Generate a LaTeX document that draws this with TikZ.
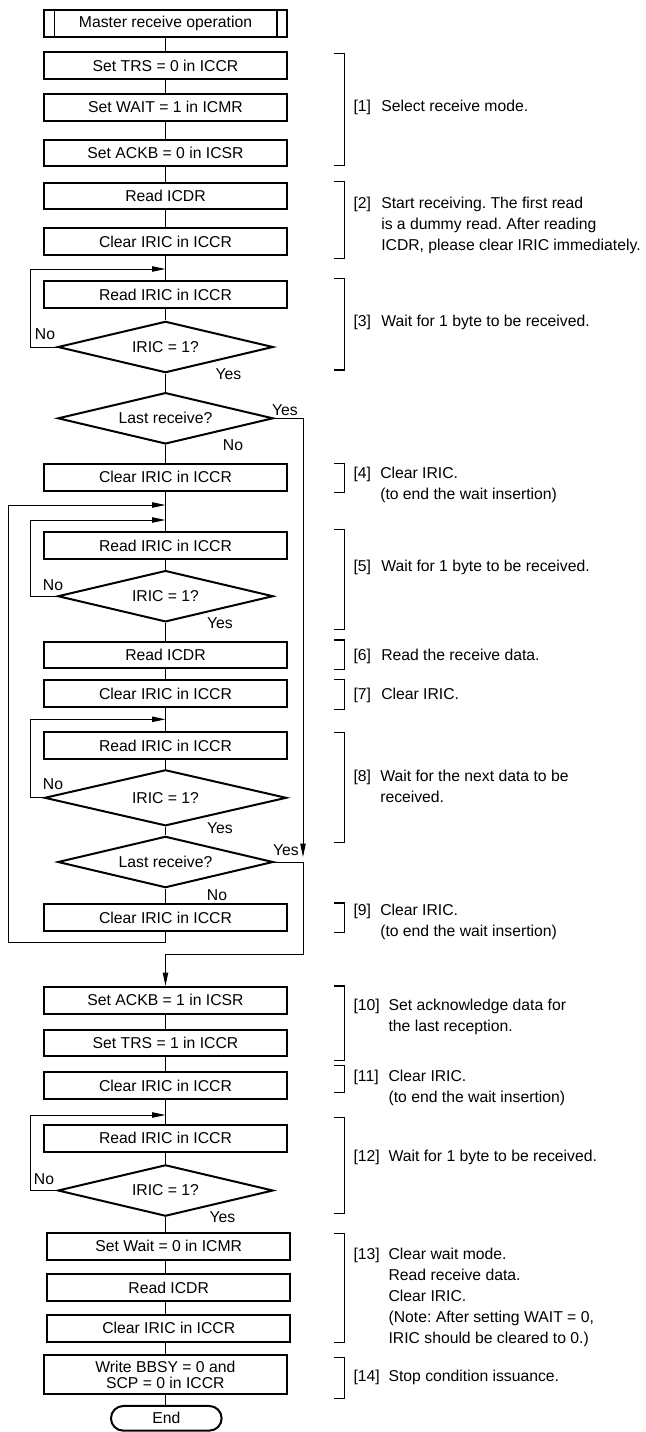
\documentclass[tikz,border=0pt]{standalone}
\usepackage{fontspec}
\setmainfont{Liberation Sans}
\frenchspacing
\usetikzlibrary{shapes.geometric,shapes.misc,arrows.meta}
\begin{document}
\begin{tikzpicture}[x=0.75pt,y=-0.75pt,
  every node/.style={font=\fontsize{11.8}{15.75}\selectfont},
  box/.style={draw, line width=1.5pt, minimum width=182.5pt, minimum height=20pt, inner sep=0pt},
  dec/.style={draw, diamond, shape aspect=4.17, line width=1.5pt, minimum width=161.5pt, minimum height=38.5pt, inner sep=0pt},
  conn/.style={line width=0.75pt},
  arr/.style={conn, -{Triangle[length=10pt,width=4pt]}},
  brk/.style={line width=1pt},
  lbl/.style={inner sep=0pt},
  note/.style={anchor=base west, inner sep=0pt}
]
\useasboundingbox (0,0) rectangle (646,1432);

% ---- flow nodes
\node[box] (start) at (165.5,23.2) {Master receive operation};
\draw[line width=1pt] ([xshift=8.5pt]start.north west) -- ([xshift=8.5pt]start.south west);
\draw[line width=1pt] ([xshift=-8.5pt]start.north east) -- ([xshift=-8.5pt]start.south east);
\node[box] (trs0) at (165.5,65.8) {Set TRS = 0 in ICCR};
\node[box] (wait1) at (165.5,107.2) {Set WAIT = 1 in ICMR};
\node[box] (ackb0) at (165.5,153) {Set ACKB = 0 in ICSR};
\node[box] (rd1) at (165.5,196) {Read ICDR};
\node[box] (clr1) at (165.5,241.8) {Clear IRIC in ICCR};
\node[box] (ri1) at (165.5,294.7) {Read IRIC in ICCR};
\node[dec] (dia1) at (165.5,347) {IRIC = 1?};
\node[dec] (last1) at (165.5,418.3) {Last receive?};
\node[box] (clr4) at (165.5,477.2) {Clear IRIC in ICCR};
\node[box] (ri5) at (165.5,545.8) {Read IRIC in ICCR};
\node[dec] (dia5) at (165.5,596.2) {IRIC = 1?};
\node[box] (rd6) at (165.5,655) {Read ICDR};
\node[box] (clr7) at (165.5,693.7) {Clear IRIC in ICCR};
\node[box] (ri8) at (165.5,745.8) {Read IRIC in ICCR};
\node[dec, shape aspect=4.32, minimum width=181.5pt, minimum height=42pt] (dia8) at (165.5,797.8) {IRIC = 1?};
\node[dec] (last8) at (165.5,862) {Last receive?};
\node[box] (clr9) at (165.5,917.5) {Clear IRIC in ICCR};
\node[box] (ackb1) at (165.5,1000.2) {Set ACKB = 1 in ICSR};
\node[box] (trs1) at (165.5,1043) {Set TRS = 1 in ICCR};
\node[box] (clr11) at (165.5,1085.8) {Clear IRIC in ICCR};
\node[box] (ri12) at (165.5,1138.3) {Read IRIC in ICCR};
\node[dec] (dia12) at (165.5,1190.5) {IRIC = 1?};
\node[box] (sw0) at (168.7,1246.2) {Set Wait = 0 in ICMR};
\node[box] (rd13) at (168.7,1287.8) {Read ICDR};
\node[box] (clr13) at (168.7,1328.2) {Clear IRIC in ICCR};
\node[box, minimum height=29.5pt, align=center, font=\fontsize{11.8}{12}\selectfont] (bbsy) at (165.3,1374.8) {Write BBSY = 0 and\\SCP = 0 in ICCR};
\node[draw, rounded rectangle, line width=1.5pt, minimum width=83pt, minimum height=18.5pt, inner sep=0pt] (fin) at (166.3,1418.3) {End};

% ---- helper coordinates
\coordinate (axis) at (165.5,0);
\coordinate (c1) at (30,0);
\coordinate (j1) at (165.5,269);
\coordinate (j4) at (165.5,505);
\coordinate (j5) at (165.5,520);
\coordinate (j8) at (165.5,719.3);
\coordinate (j12) at (165.5,1115);
\coordinate (o1) at (8.3,942.3);
\coordinate (r1) at (303,857);
\coordinate (b1) at (303,954.3);

% ---- straight connectors
\draw[conn] (start) -- (trs0);
\draw[conn] (trs0) -- (wait1);
\draw[conn] (wait1) -- (ackb0);
\draw[conn] (ackb0) -- (rd1);
\draw[conn] (rd1) -- (clr1);
\draw[conn] (clr1) -- (ri1);
\draw[conn] (ri1) -- (dia1);
\draw[conn] (dia1) -- (last1);
\draw[conn] (last1) -- (clr4);
\draw[conn] (clr4) -- (ri5);
\draw[conn] (ri5) -- (dia5);
\draw[conn] (dia5) -- (rd6);
\draw[conn] (rd6) -- (clr7);
\draw[conn] (clr7) -- (ri8);
\draw[conn] (ri8) -- (dia8);
\draw[conn] (dia8) -- (last8);
\draw[conn] (last8) -- (clr9);
\draw[conn] (ackb1) -- (trs1);
\draw[conn] (trs1) -- (clr11);
\draw[conn] (clr11) -- (ri12);
\draw[conn] (ri12) -- (dia12);
\draw[conn] (dia12.south) -- (axis |- sw0.north);
\draw[conn] (axis |- sw0.south) -- (axis |- rd13.north);
\draw[conn] (axis |- rd13.south) -- (axis |- clr13.north);
\draw[conn] (axis |- clr13.south) -- (axis |- bbsy.north);
\draw[conn] (axis |- bbsy.south) -- (axis |- fin.north);

% ---- loops
\draw[arr] (dia1.west) -- (dia1.west -| c1) |- (j1);
\draw[arr] (dia5.west) -- (dia5.west -| c1) |- (j5);
\draw[arr] (dia8.west) -- (dia8.west -| c1) |- (j8);
\draw[arr] (dia12.west) -- (dia12.west -| c1) |- (j12);
\draw[arr] (clr9.south) |- (o1) |- (j4);
\draw[arr] (last1.east) -| (r1);
\draw[arr] (last8.east) -| (b1) -| (ackb1.north);

% ---- Yes / No labels
\node[lbl] (no1) at (45,334) {No};
\node[lbl] (yes1) at (228.5,374) {Yes};
\node[lbl] (yesl1) at (285,410) {Yes};
\node[lbl] (nol1) at (233,445) {No};
\node[lbl] (no5) at (53,585) {No};
\node[lbl] (yes5) at (220,623) {Yes};
\node[lbl] (no8) at (53,784) {No};
\node[lbl] (yes8) at (220,828) {Yes};
\node[lbl] (yesl8) at (286,850) {Yes};
\node[lbl] (nol8) at (217,895) {No};
\node[lbl] (no12) at (44,1179) {No};
\node[lbl] (yes12) at (222.5,1217) {Yes};

% ---- brackets
\foreach \t/\b in {53.3/165.7, 181.7/258.3, 278.3/370, 463.3/492.7, 529.3/629.3,
  640/669.3, 679.3/709.3, 732.7/842.3, 903/932.3, 986/1060.7, 1065.7/1092.7,
  1117.3/1213.3, 1233.3/1342.3, 1357.7/1398.3}
  \draw[brk] (334.3,\t) -- (344.3,\t) -- (344.3,\b) -- (334.3,\b);

% ---- notes
\node[note] (k1) at (353.3,111.7) {[1]};
\node[note] (t1) at (381,111.7) {Select receive mode.};
\node[note] (k2) at (353.3,208.3) {[2]};
\node[note] (t2) at (381,208.3) {\begin{tabular}[t]{@{}l@{}}Start receiving. The first read\\is a dummy read. After reading\\ICDR, please clear IRIC immediately.\end{tabular}};
\node[note] (k3) at (353.3,326.7) {[3]};
\node[note] (t3) at (381,326.7) {Wait for 1 byte to be received.};
\node[note] (k4) at (353.3,478.3) {[4]};
\node[note] (t4) at (380,478.3) {\begin{tabular}[t]{@{}l@{}}Clear IRIC.\\(to end the wait insertion)\end{tabular}};
\node[note] (k5) at (353.3,571.7) {[5]};
\node[note] (t5) at (381,571.7) {Wait for 1 byte to be received.};
\node[note] (k6) at (353.3,660) {[6]};
\node[note] (t6) at (381,660) {Read the receive data.};
\node[note] (k7) at (353.3,699) {[7]};
\node[note] (t7) at (381,699) {Clear IRIC.};
\node[note] (k8) at (353.3,781.7) {[8]};
\node[note] (t8) at (380,781.7) {\begin{tabular}[t]{@{}l@{}}Wait for the next data to be\\received.\end{tabular}};
\node[note] (k9) at (353.3,915) {[9]};
\node[note] (t9) at (380,915) {\begin{tabular}[t]{@{}l@{}}Clear IRIC.\\(to end the wait insertion)\end{tabular}};
\node[note] (k10) at (353.3,1010) {[10]};
\node[note] (t10) at (388.3,1010) {\begin{tabular}[t]{@{}l@{}}Set acknowledge data for\\the last reception.\end{tabular}};
\node[note] (k11) at (353.3,1081.7) {[11]};
\node[note] (t11) at (388.3,1081.7) {\begin{tabular}[t]{@{}l@{}}Clear IRIC.\\(to end the wait insertion)\end{tabular}};
\node[note] (k12) at (353.3,1161.7) {[12]};
\node[note] (t12) at (388.3,1161.7) {Wait for 1 byte to be received.};
\node[note] (k13) at (353.3,1259) {[13]};
\node[note] (t13) at (388.3,1259) {\begin{tabular}[t]{@{}l@{}}Clear wait mode.\\Read receive data.\\Clear IRIC.\\(Note: After setting WAIT = 0,\\IRIC should be cleared to 0.)\end{tabular}};
\node[note] (k14) at (353.3,1381.7) {[14]};
\node[note] (t14) at (388.3,1381.7) {Stop condition issuance.};
\end{tikzpicture}
\end{document}
